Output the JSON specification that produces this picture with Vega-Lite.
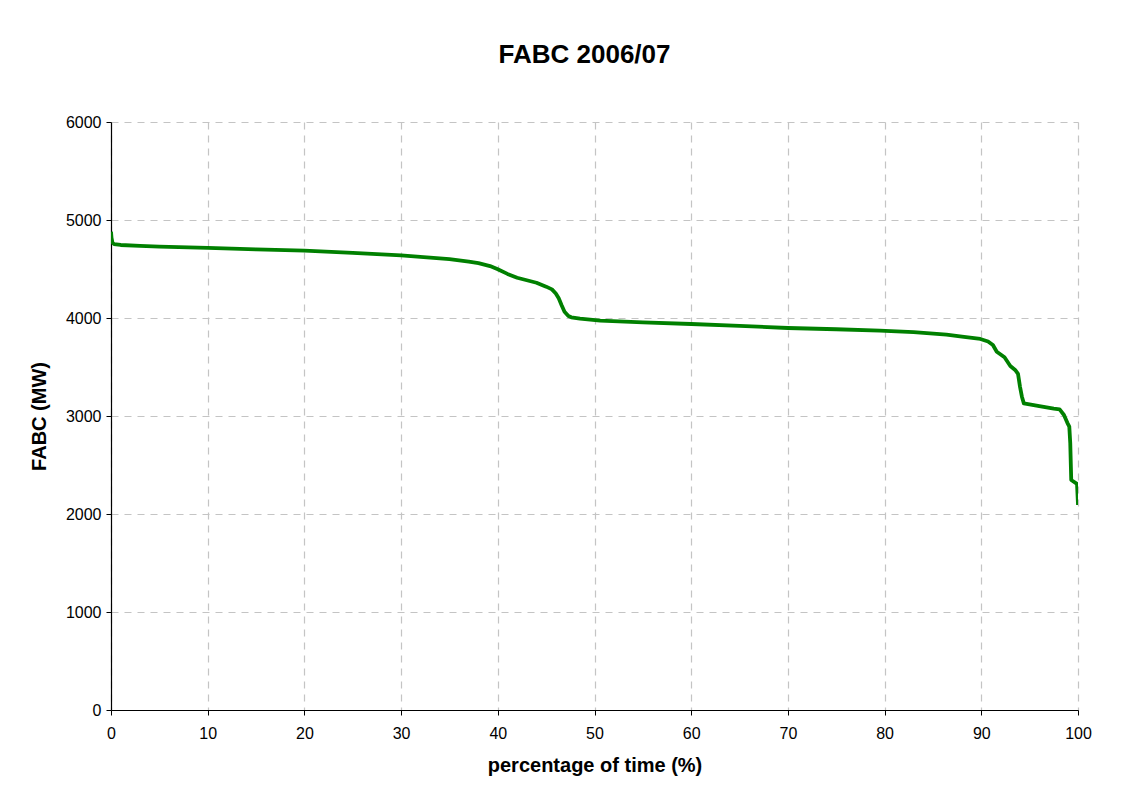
{
  "$schema": "https://vega.github.io/schema/vega-lite/v6.json",
  "width": 967,
  "height": 588,
  "autosize": {"type": "none"},
  "padding": {"left": 111, "top": 122, "right": 69, "bottom": 84},
  "background": "white",
  "title": {
    "text": "FABC 2006/07",
    "font": "Liberation Sans",
    "fontSize": 26,
    "fontWeight": "bold",
    "color": "black",
    "anchor": "middle",
    "offset": 46,
    "dx": -10
  },
  "config": {
    "view": {"stroke": null},
    "axis": {
      "labelFont": "Liberation Sans",
      "labelFontSize": 16,
      "labelColor": "black",
      "titleFont": "Liberation Sans",
      "titleFontSize": 20,
      "titleFontWeight": "bold",
      "titleColor": "black",
      "domainColor": "black",
      "domainWidth": 1.2,
      "tickColor": "black",
      "tickSize": 5,
      "gridColor": "#c4c4c4",
      "gridDash": [7, 6],
      "gridWidth": 1.2
    }
  },
  "data": {
    "values": [
      {"pct": 0, "mw": 4880},
      {"pct": 0.05, "mw": 4820},
      {"pct": 0.15, "mw": 4770},
      {"pct": 0.3, "mw": 4755},
      {"pct": 1, "mw": 4745},
      {"pct": 3, "mw": 4735},
      {"pct": 5, "mw": 4728},
      {"pct": 10, "mw": 4715},
      {"pct": 15, "mw": 4700},
      {"pct": 20, "mw": 4688},
      {"pct": 25, "mw": 4665},
      {"pct": 30, "mw": 4638},
      {"pct": 33, "mw": 4615},
      {"pct": 35, "mw": 4600},
      {"pct": 37, "mw": 4575},
      {"pct": 38, "mw": 4560},
      {"pct": 39.2, "mw": 4530},
      {"pct": 40, "mw": 4497},
      {"pct": 41, "mw": 4450},
      {"pct": 42, "mw": 4411},
      {"pct": 43, "mw": 4385},
      {"pct": 44, "mw": 4360},
      {"pct": 45, "mw": 4320},
      {"pct": 45.6, "mw": 4292},
      {"pct": 46, "mw": 4250},
      {"pct": 46.3, "mw": 4201},
      {"pct": 46.6, "mw": 4130},
      {"pct": 46.9, "mw": 4064},
      {"pct": 47.3, "mw": 4020},
      {"pct": 47.6, "mw": 4007},
      {"pct": 48.5, "mw": 3993},
      {"pct": 50.6, "mw": 3973},
      {"pct": 55, "mw": 3955},
      {"pct": 60, "mw": 3939},
      {"pct": 65, "mw": 3920},
      {"pct": 70, "mw": 3898},
      {"pct": 75, "mw": 3885},
      {"pct": 79.5, "mw": 3871},
      {"pct": 83, "mw": 3855},
      {"pct": 86.4, "mw": 3830},
      {"pct": 88, "mw": 3810},
      {"pct": 89.9, "mw": 3786},
      {"pct": 90.7, "mw": 3760},
      {"pct": 91.2, "mw": 3724},
      {"pct": 91.6, "mw": 3656},
      {"pct": 92.4, "mw": 3599},
      {"pct": 93.0, "mw": 3510},
      {"pct": 93.5, "mw": 3470},
      {"pct": 93.8, "mw": 3429},
      {"pct": 94.0, "mw": 3300},
      {"pct": 94.2, "mw": 3197},
      {"pct": 94.4, "mw": 3129},
      {"pct": 96, "mw": 3100},
      {"pct": 97.5, "mw": 3075},
      {"pct": 98.1, "mw": 3068},
      {"pct": 98.55, "mw": 3010},
      {"pct": 98.9, "mw": 2930},
      {"pct": 99.1, "mw": 2891},
      {"pct": 99.2, "mw": 2721},
      {"pct": 99.3, "mw": 2347},
      {"pct": 99.9, "mw": 2306},
      {"pct": 100, "mw": 2092}
    ]
  },
  "mark": {"type": "line", "color": "#008000", "strokeWidth": 3.8, "strokeJoin": "round", "clip": true},
  "encoding": {
    "x": {
      "field": "pct",
      "type": "quantitative",
      "scale": {"domain": [0, 100], "nice": false},
      "axis": {
        "title": "percentage of time (%)",
        "values": [0, 10, 20, 30, 40, 50, 60, 70, 80, 90, 100],
        "format": "d",
        "labelPadding": 10,
        "titlePadding": 14,
        "labelFlush": false
      }
    },
    "y": {
      "field": "mw",
      "type": "quantitative",
      "scale": {"domain": [0, 6000], "nice": false},
      "axis": {
        "title": "FABC (MW)",
        "values": [0, 1000, 2000, 3000, 4000, 5000, 6000],
        "format": "d",
        "labelPadding": 5,
        "titlePadding": 16,
        "labelFlush": false
      }
    }
  }
}
